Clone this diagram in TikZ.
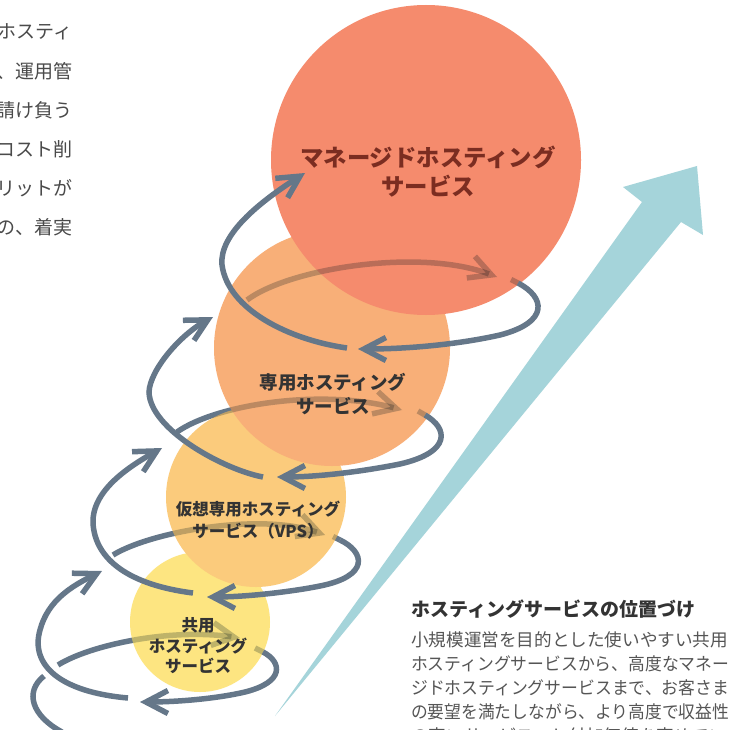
\documentclass[tikz,border=0pt]{standalone}
\usepackage{fontspec}
\newfontfamily\jp{Noto Sans CJK JP}
\usetikzlibrary{arrows.meta}
\definecolor{sl}{HTML}{657789}
\definecolor{cred}{HTML}{F58B6D}
\definecolor{cded}{HTML}{F8AF78}
\definecolor{cvps}{HTML}{FBCB7C}
\definecolor{cyel}{HTML}{FDE581}
\definecolor{cteal}{HTML}{A5D4DA}
\definecolor{redtxt}{HTML}{7B2D21}
\definecolor{lbltxt}{HTML}{333333}
\definecolor{bodytxt}{HTML}{555555}
\definecolor{toptxt}{HTML}{4A4A4A}
\tikzset{
  sp/.style={draw=sl, line width=5.5pt, line cap=butt},
  tipb/.style={-{Straight Barb[sharp,length=22pt,width=23pt]}},
  lbl/.style={inner sep=0pt, align=center, text=lbltxt},
  tl/.style={inner sep=0pt, anchor=east, text=toptxt, font=\jp\fontsize{19}{19}\selectfont},
  bl/.style={inner sep=0pt, anchor=west, text=bodytxt, font=\jp\fontsize{17.6}{17.6}\selectfont},
}
\newcommand\bkpaths[1]{%
  \draw[sp,#1] (62,732) .. controls (32,716) and (24,692) .. (44,676);
  \draw[sp,tipb,#1] (58,665) .. controls (90,645) and (170,628) .. (240,638);
  \draw[sp,#1] (255,648) -- (263,652);
  \draw[sp,tipb,#1] (113,555) .. controls (150,532) and (260,512) .. (325,535);
  \draw[sp,#1] (333,536.5) -- (340,540);
  \draw[sp,tipb,#1] (177,432) .. controls (215,405) and (320,388) .. (402,410);
  \draw[sp,#1] (418,411) -- (425,415);
  \draw[sp,tipb,#1] (247,300) .. controls (290,268) and (420,248) .. (497,277);
  \draw[sp,#1] (511,279.5) -- (518,283);
}
\newcommand\fitline[1]{\resizebox{318pt}{\height}{#1}}
\begin{document}
\begin{tikzpicture}[x=1pt,y=-1pt]
\useasboundingbox (0,0) rectangle (730,730);
\clip (0,0) rectangle (730,730);
\fill[white] (0,0) rectangle (730,730);

% big teal arrow
\fill[cteal] (275,716) -- (642,202) -- (623,187) -- (697,166) -- (703,235) -- (681,222) -- cycle;

% back arcs, solid under the circles
\bkpaths{}

% circles
\fill[cyel] (200,622) circle (70);
\fill[cvps] (256,497) circle (90);
\fill[cded] (332,348) circle (118);
\fill[cred] (426,160) circle (155);

% back arcs seen through the circles
\begin{scope}
\clip (200,622) circle (70) (256,497) circle (90) (332,348) circle (118) (426,160) circle (155);
\begin{scope}[blend mode=multiply]
\bkpaths{draw opacity=0.4}
\end{scope}
\end{scope}

% front turns
\draw[sp,tipb] (263,652) .. controls (282,662) and (285,682) .. (245,692) .. controls (215,699) and (175,702) .. (140,702);
\draw[sp,tipb] (340,540) .. controls (365,552) and (370,576) .. (320,586) .. controls (290,592) and (245,597) .. (207,597);
\draw[sp,tipb] (425,415) .. controls (448,428) and (452,452) .. (400,464) .. controls (365,471) and (320,477) .. (277,477);
\draw[sp,tipb] (518,283) .. controls (545,297) and (550,322) .. (500,335) .. controls (460,344) and (410,349) .. (358,349);

% rising curves on the left
\draw[sp,tipb] (128,698) .. controls (60,692) and (30,665) .. (40,630) .. controls (48,600) and (72,586) .. (102,571);
\draw[sp,tipb] (193,593) .. controls (130,585) and (95,560) .. (93,523) .. controls (92,490) and (130,466) .. (162,448);
\draw[sp,tipb] (263,477) .. controls (225,470) and (150,430) .. (149,392) .. controls (150,370) and (180,335) .. (213,317);
\draw[sp,tipb] (347,348) .. controls (290,340) and (228,310) .. (222,265) .. controls (219,235) and (258,203) .. (305,173);

% circle labels
\node[lbl, text=redtxt, font=\jp\bfseries\fontsize{23.4}{29}\selectfont] (tman) at (428,172) {マネージドホスティング\\サービス};
\node[lbl, font=\jp\bfseries\fontsize{18.5}{24}\selectfont] (tded) at (333,394) {専用ホスティング\\サービス};
\node[lbl, font=\jp\bfseries\fontsize{16.5}{22}\selectfont] (tvps) at (258,520) {仮想専用ホスティング\\サービス（VPS）};
\node[lbl, font=\jp\bfseries\fontsize{16.5}{20.5}\selectfont] (tsha) at (198,646) {共用\\ホスティング\\サービス};

% top-left paragraph fragment
\node[tl] (p0) at (73,-7) {ると};
\node[tl] (p1) at (73,32) {ホスティ};
\node[tl] (p2) at (73,71) {、運用管};
\node[tl] (p3) at (73,110) {請け負う};
\node[tl] (p4) at (73,149) {コスト削};
\node[tl] (p5) at (73,188) {リットが};
\node[tl] (p6) at (73,227) {の、着実};

% bottom-right text
\node[inner sep=0pt, anchor=west, text=lbltxt, font=\jp\bfseries\fontsize{19}{19}\selectfont] (ttl) at (411,609) {ホスティングサービスの位置づけ};
\node[bl] (b1) at (411,640) {小規模運営を目的とした使いやすい共用};
\node[bl] (b2) at (411,664) {\fitline{ホスティングサービスから、高度なマネー}};
\node[bl] (b3) at (411,688) {\fitline{ジドホスティングサービスまで、お客さま}};
\node[bl] (b4) at (411,712) {\fitline{の要望を満たしながら、より高度で収益性}};
\node[bl] (b5) at (411,736) {の高いサービスへと付加価値を高めてい};
\end{tikzpicture}
\end{document}
